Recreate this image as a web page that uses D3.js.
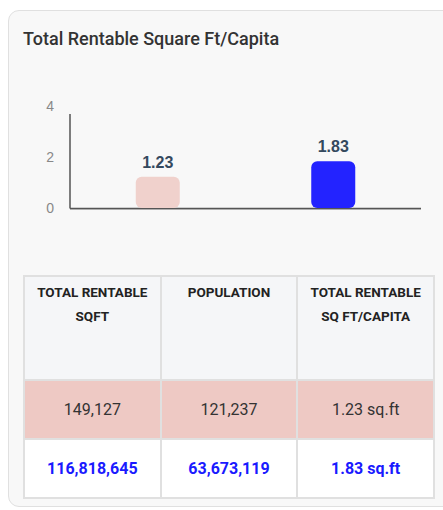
<!DOCTYPE html>
<html lang="en">
<head>
<meta charset="utf-8">
<title>Total Rentable Square Ft/Capita</title>
<script src="https://cdn.jsdelivr.net/npm/d3@7"></script>
<style>
    body { margin: 0; width: 443px; height: 510px; background: #fff; position: relative; overflow: hidden; font-family: Roboto, sans-serif; }
    #card {
        position: absolute; left: 8px; top: 10px; width: 460px; height: 495px;
        background: #f8f8f8; border: 1.5px solid #e0e0e0; border-radius: 11px;
    }
    #title { position: absolute; left: 23px; top: 28px; font-size: 18px; font-weight: 500; color: #333; }
    svg { position: absolute; left: 0; top: 0; }
    table {
        position: absolute; left: 23px; top: 275px; width: 412px;
        border-collapse: collapse; table-layout: fixed;
    }
    td, th { border: 2px solid #e0e0e0; text-align: center; }
    th {
        background: #f5f6f8; font-size: 13.5px; font-weight: 700; color: #222;
        height: 99px; vertical-align: top; padding: 3px 2px 0; line-height: 24px;
    }
    td { height: 57px; font-size: 16px; padding: 0; }
    tr.r0 td { background: #eec9c4; color: #333; }
    tr.r1 td { background: #fff; color: #1a1aff; font-weight: 700; }
</style>
</head>
<body>
<div id="card"></div>
<div id="title">Total Rentable Square Ft/Capita</div>
<div id="table"></div>
<script>
    var categories = ["A", "B"];
    var values = [1.23, 1.83];
    var barColors = ["#f0d1cc", "#2323ff"];
    var yTicks = [0, 2, 4];

    var headers = ["TOTAL RENTABLE<br>SQFT", "POPULATION", "TOTAL RENTABLE<br>SQ FT/CAPITA"];
    var sqft = ["149,127", "116,818,645"];
    var population = ["121,237", "63,673,119"];
    var perCapita = ["1.23 sq.ft", "1.83 sq.ft"];

    var width = 443, height = 510;
    var svg = d3.select("body").append("svg").attr("width", width).attr("height", height);

    var x = d3.scalePoint().domain(categories).range([70, 421]).padding(0.5);
    var y = d3.scaleLinear().domain([0, 4]).range([208, 106]);

    // y axis
    var yAxis = svg.append("g").attr("transform", "translate(70,0)")
        .call(d3.axisLeft(y).tickValues(yTicks).tickFormat(d3.format("d")).tickSize(0).tickPadding(16));
    yAxis.select(".domain").remove();
    yAxis.selectAll("text").attr("fill", "#888").style("font-family", "Arial, 'Liberation Sans', sans-serif").style("font-size", "14px");
    svg.append("line").attr("x1", 70).attr("x2", 70).attr("y1", 114).attr("y2", 208.5)
        .attr("stroke", "#555").attr("stroke-width", 1.5);
    svg.append("line").attr("x1", 70).attr("x2", 421).attr("y1", 209.5).attr("y2", 209.5)
        .attr("stroke", "#ccc").attr("stroke-width", 1);
    svg.append("line").attr("x1", 70).attr("x2", 421).attr("y1", 208.5).attr("y2", 208.5)
        .attr("stroke", "#555").attr("stroke-width", 1.5);

    var barW = 44;
    svg.selectAll("rect.bar").data(values).enter().append("rect")
        .attr("class", "bar")
        .attr("x", function(d, i) { return x(categories[i]) - barW / 2; })
        .attr("y", function(d) { return y(d); })
        .attr("width", barW)
        .attr("height", function(d) { return y(0) - y(d); })
        .attr("rx", 6)
        .attr("fill", function(d, i) { return barColors[i]; });

    svg.selectAll("text.lbl").data(values).enter().append("text")
        .attr("class", "lbl")
        .attr("x", function(d, i) { return x(categories[i]); })
        .attr("y", function(d) { return y(d) - 9; })
        .attr("text-anchor", "middle")
        .style("font-family", "Arial, 'Liberation Sans', sans-serif")
        .style("font-size", "16px").style("font-weight", "bold")
        .attr("fill", "#34495e")
        .text(function(d) { return d3.format(".2f")(d); });

    // table
    var table = d3.select("#table").append("table");
    table.append("tr").selectAll("th").data(headers).enter().append("th")
        .html(function(d) { return d; });
    var rows = d3.range(sqft.length).map(function(i) { return [sqft[i], population[i], perCapita[i]]; });
    table.selectAll("tr.row").data(rows).enter().append("tr")
        .attr("class", function(d, i) { return "row r" + i; })
        .selectAll("td").data(function(d) { return d; }).enter().append("td")
        .text(function(d) { return d; });
</script>
</body>
</html>
